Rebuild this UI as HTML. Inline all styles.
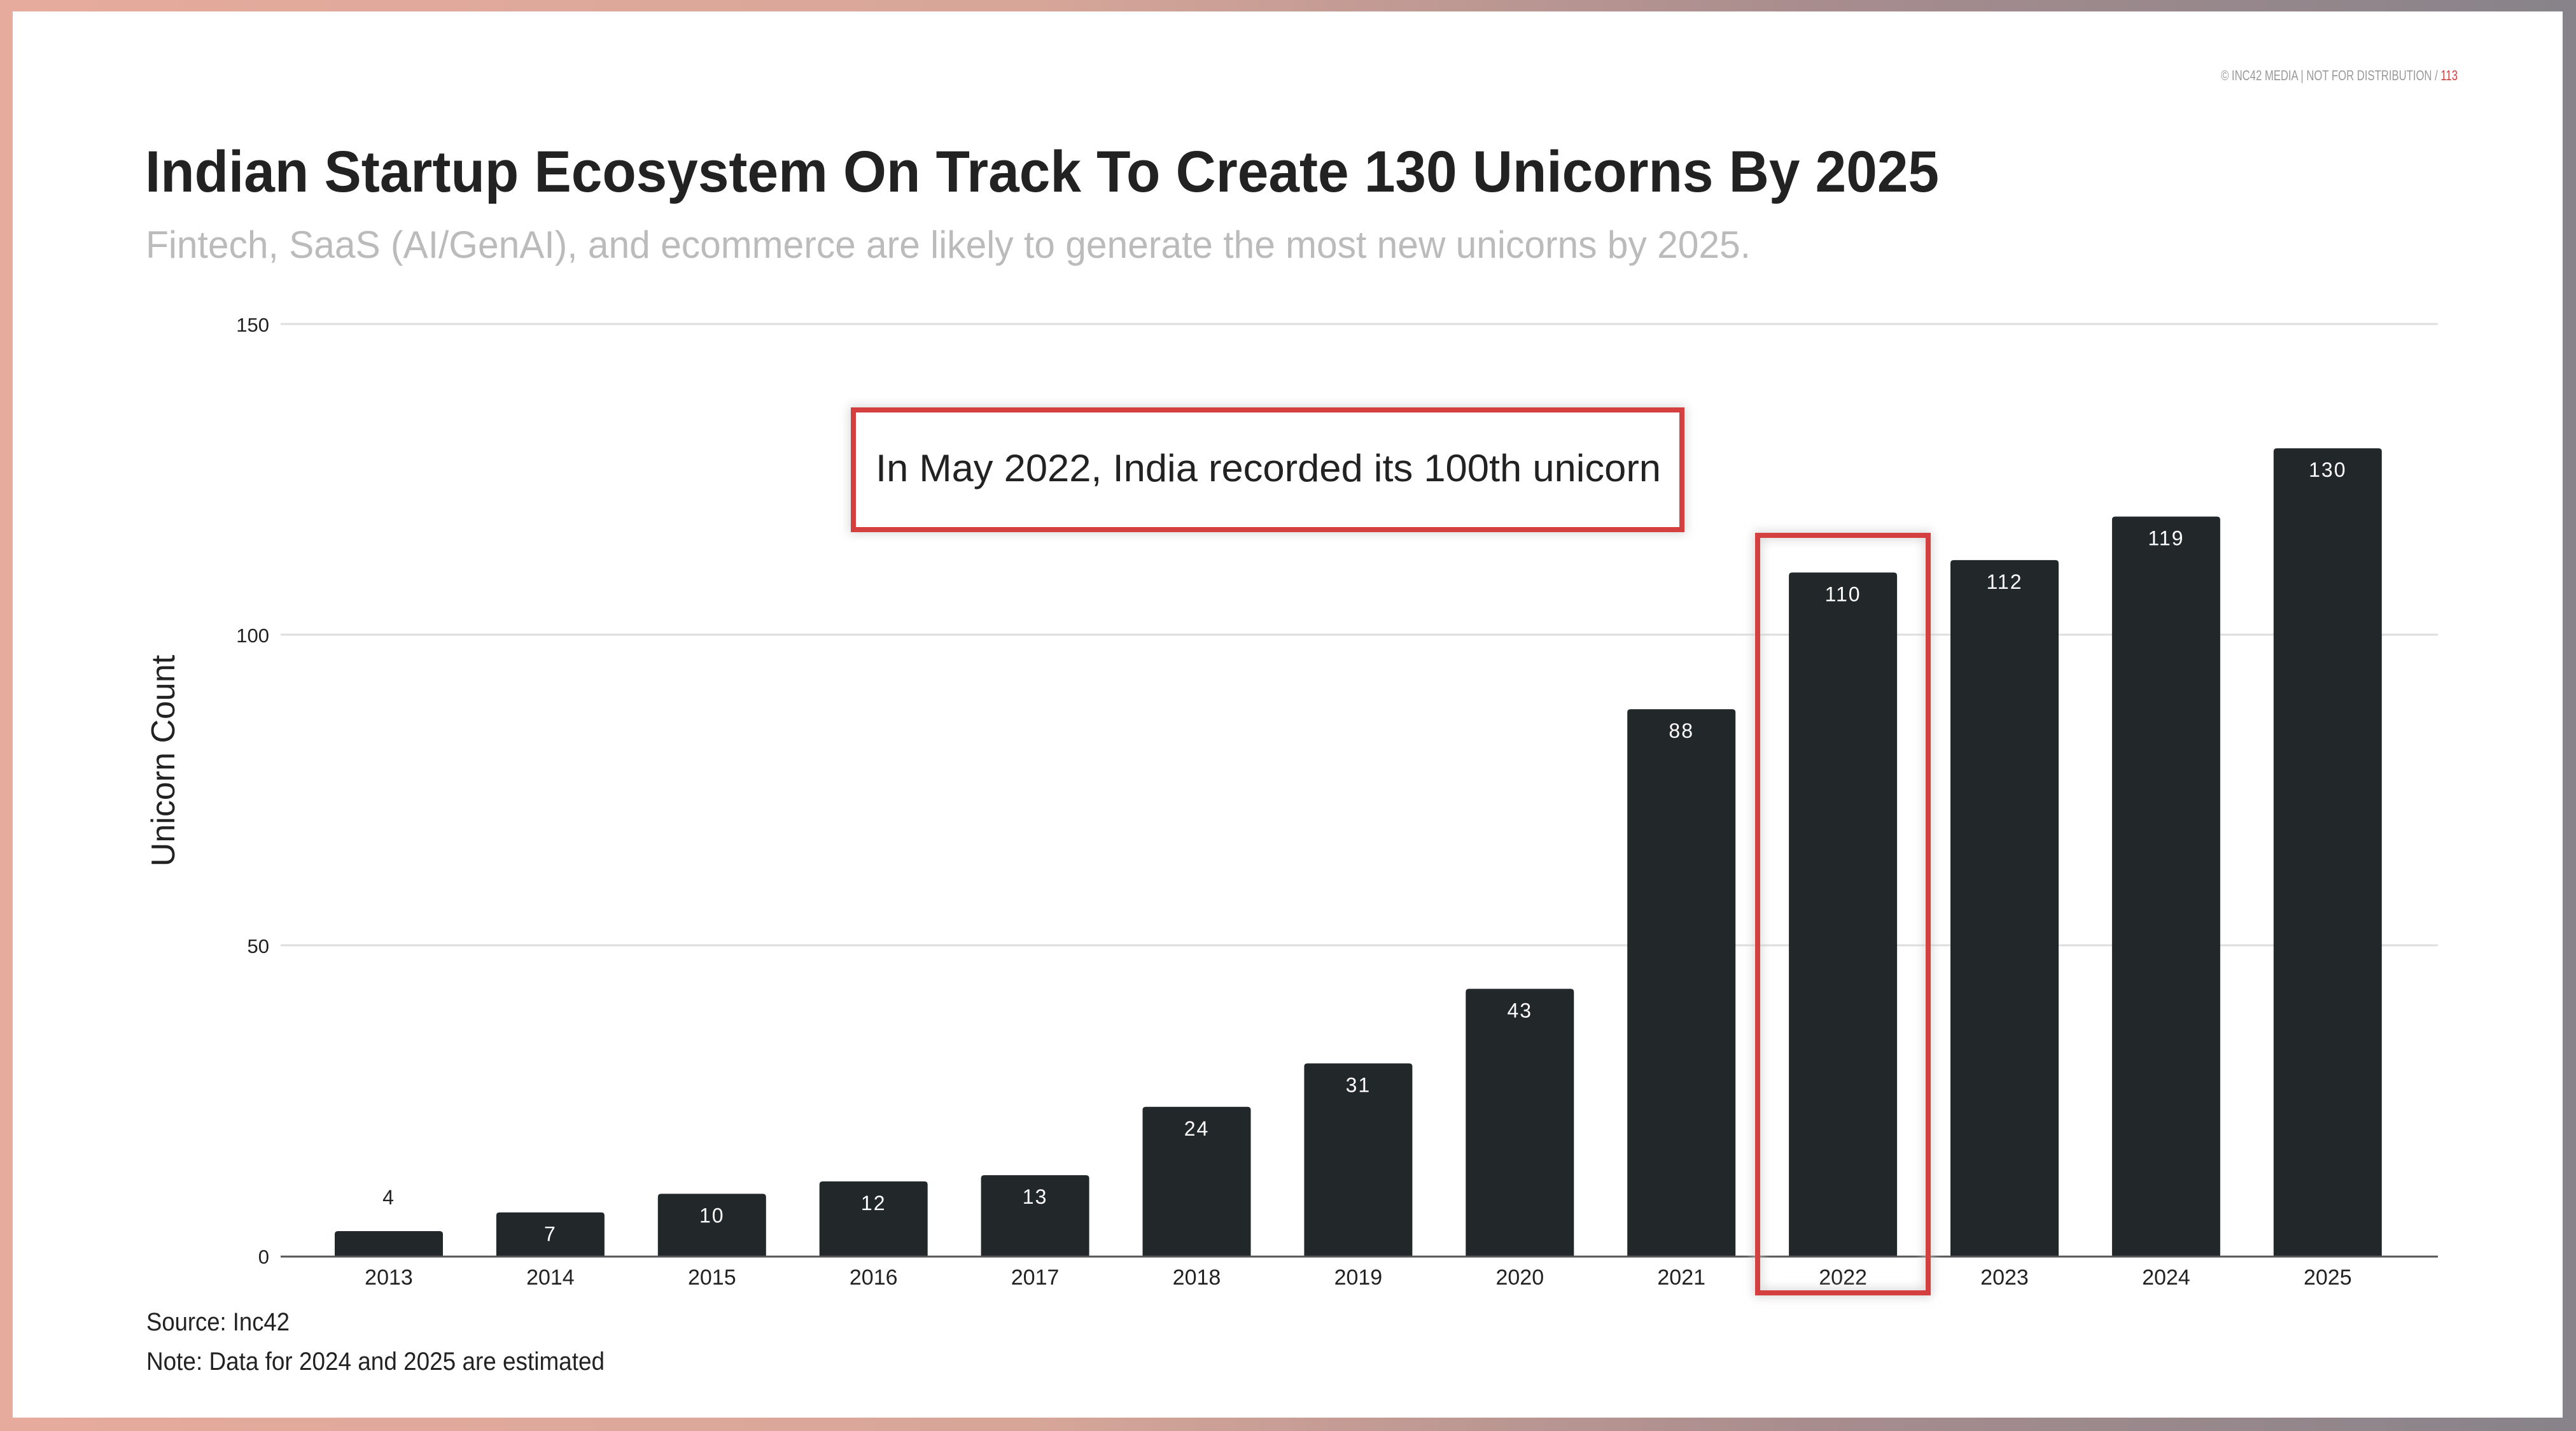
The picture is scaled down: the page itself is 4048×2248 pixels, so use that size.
<!DOCTYPE html>
<html><head><meta charset="utf-8"><style>
html,body{margin:0;padding:0;}
body{width:4048px;height:2248px;overflow:hidden;background:linear-gradient(90deg,#e6ab9c 0%,#d7a699 40%,#a98d8e 70%,#87838a 100%);position:relative;font-family:"Liberation Sans",sans-serif;}
.page{position:absolute;left:20px;top:18px;width:4007px;height:2209px;background:#fff;}
</style></head><body>
<div class="page"></div>
<svg width="4048" height="2248" viewBox="0 0 4048 2248" style="position:absolute;left:0;top:0" font-family="Liberation Sans, sans-serif">
<defs>
<filter id="sh" x="-10%" y="-10%" width="120%" height="120%"><feGaussianBlur stdDeviation="8"/></filter>
</defs>
<text x="3862" y="126" font-size="22" fill="#999" text-anchor="end" textLength="372" lengthAdjust="spacingAndGlyphs">© INC42 MEDIA | NOT FOR DISTRIBUTION / <tspan fill="#d04040">113</tspan></text>
<text x="228" y="301" font-size="92" font-weight="bold" fill="#222" textLength="2819" lengthAdjust="spacingAndGlyphs">Indian Startup Ecosystem On Track To Create 130 Unicorns By 2025</text>
<text x="229" y="405" font-size="60" fill="#bbb" textLength="2522" lengthAdjust="spacingAndGlyphs">Fintech, SaaS (AI/GenAI), and ecommerce are likely to generate the most new unicorns by 2025.</text>
<g stroke="#ddd" stroke-width="3">
<line x1="441" y1="509" x2="3831" y2="509"/>
<line x1="441" y1="997" x2="3831" y2="997"/>
<line x1="441" y1="1485" x2="3831" y2="1485"/>
</g>
<g font-size="31" fill="#222" text-anchor="end">
<text x="423" y="521">150</text><text x="423" y="1009">100</text><text x="423" y="1497">50</text><text x="423" y="1985">0</text>
</g>
<text transform="translate(274,1195) rotate(-90)" font-size="52" fill="#222" text-anchor="middle">Unicorn Count</text>
<g id="bars"></g>
<line x1="441" y1="1974" x2="3831" y2="1974" stroke="#555" stroke-width="3"/>
<g font-size="34" fill="#222" text-anchor="middle" id="xl"></g>
<rect x="2762" y="841" width="268" height="1190" fill="none" stroke="#ccc" stroke-width="10" filter="url(#sh)"/>
<rect x="2762" y="841" width="268" height="1190" fill="none" stroke="#d43f3f" stroke-width="8"/>
<rect x="1341" y="644" width="1302" height="188" fill="none" stroke="#ccc" stroke-width="10" filter="url(#sh)"/>
<rect x="1341" y="644" width="1302" height="188" fill="#fff" stroke="#d43f3f" stroke-width="8"/>
<text x="1376" y="756" font-size="60" fill="#222" textLength="1234" lengthAdjust="spacingAndGlyphs">In May 2022, India recorded its 100th unicorn</text>
<text x="230" y="2090" font-size="40" fill="#222" textLength="225" lengthAdjust="spacingAndGlyphs">Source: Inc42</text>
<text x="230" y="2152" font-size="40" fill="#222" textLength="720" lengthAdjust="spacingAndGlyphs">Note: Data for 2024 and 2025 are estimated</text>
</svg>
<script>
var v=[4,7,10,12,13,24,31,43,88,110,112,119,130],b='',x='';
for(var i=0;i<13;i++){var c=611+i*253.9,t=1973-v[i]*9.76;
b+='<path d="M'+(c-85)+' '+(t+5)+'q0 -5 5 -5h160q5 0 5 5V1973H'+(c-85)+'Z" fill="#22282a"/>';
var ly=v[i]<5?t-42:t+45;var col=v[i]<5?'#222':'#fff';
b+='<text x="'+c+'" y="'+ly+'" font-size="32" fill="'+col+'" text-anchor="middle" letter-spacing="2">'+v[i]+'</text>';
x+='<text x="'+c+'" y="2018">'+(2013+i)+'</text>';}
document.getElementById('bars').innerHTML=b;document.getElementById('xl').innerHTML=x;
</script>
</body></html>
